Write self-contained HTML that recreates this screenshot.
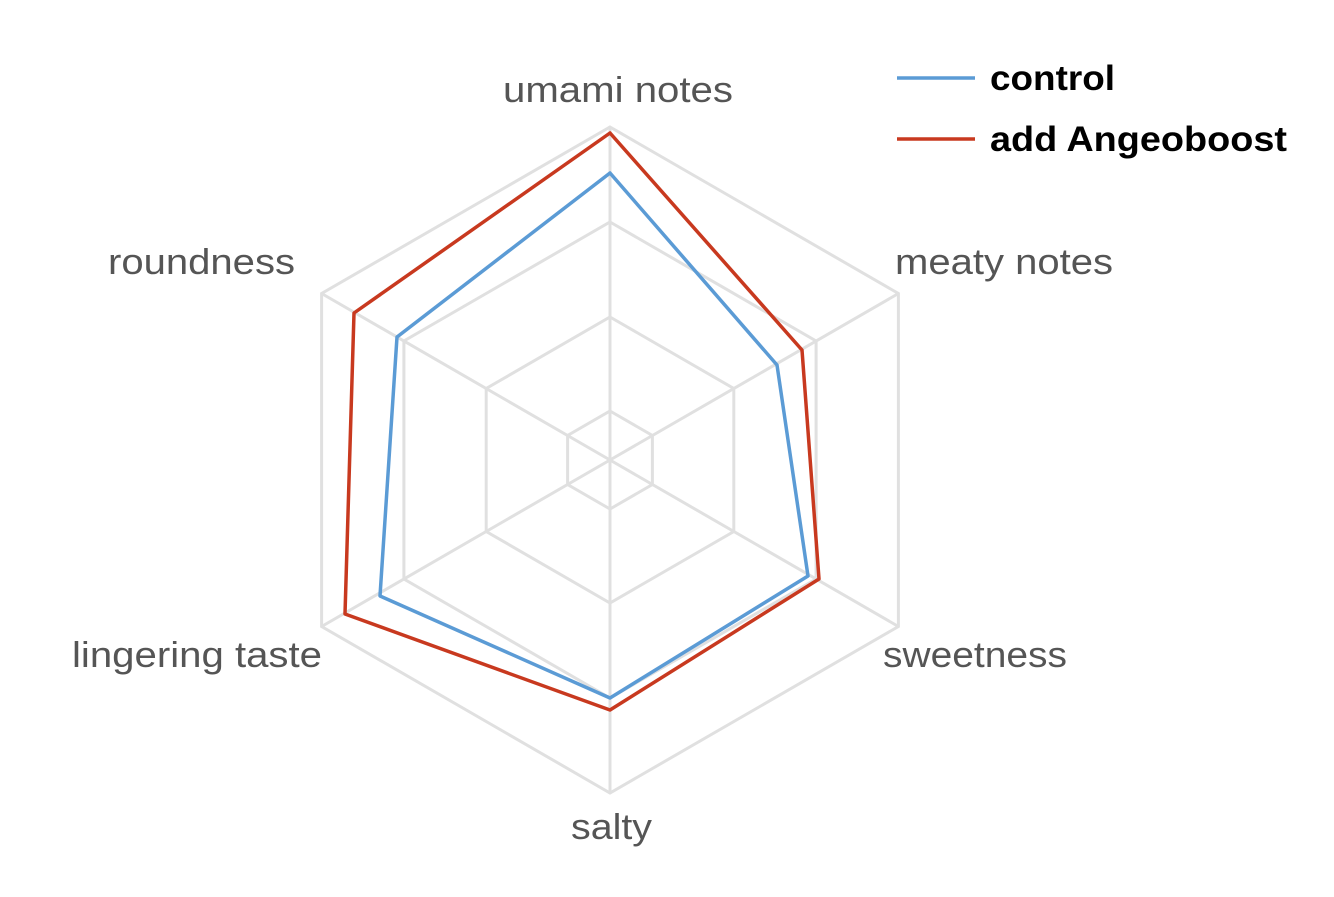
<!DOCTYPE html>
<html><head><meta charset="utf-8"><style>
html,body{margin:0;padding:0;background:#fff;}
svg{display:block;}
text{font-family:"Liberation Sans","DejaVu Sans",sans-serif;}
</style></head><body>
<svg width="1334" height="897" viewBox="0 0 1334 897" xmlns="http://www.w3.org/2000/svg">
<g fill="none" stroke="#e0e0e0" stroke-width="3">
<polygon points="610,411 652.4,435.5 652.4,484.5 610,509 567.6,484.5 567.6,435.5"/>
<polygon points="610,317 733.8,388.5 733.8,531.5 610,603 486.2,531.5 486.2,388.5"/>
<polygon points="610,222 816.1,341 816.1,579 610,698 403.9,579 403.9,341"/>
<polygon points="610,127 898.4,293.5 898.4,626.5 610,793 321.6,626.5 321.6,293.5"/>
<line x1="610" y1="460" x2="610" y2="127"/>
<line x1="610" y1="460" x2="898.4" y2="293.5"/>
<line x1="610" y1="460" x2="898.4" y2="626.5"/>
<line x1="610" y1="460" x2="610" y2="793"/>
<line x1="610" y1="460" x2="321.6" y2="626.5"/>
<line x1="610" y1="460" x2="321.6" y2="293.5"/>
</g>
<polygon fill="none" stroke="#5b9bd5" stroke-width="3.5" stroke-linejoin="round" points="610,173 777,365 808,576 610,698 380,596 397,337"/>
<polygon fill="none" stroke="#c8391f" stroke-width="3.5" stroke-linejoin="round" points="610,133 802,350 819,579 610,710 345,614 354,313"/>
<g fill="#555" font-size="36">
<text x="503" y="102" textLength="230" lengthAdjust="spacingAndGlyphs">umami notes</text>
<text x="108" y="274" textLength="187" lengthAdjust="spacingAndGlyphs">roundness</text>
<text x="895" y="274" textLength="218" lengthAdjust="spacingAndGlyphs">meaty notes</text>
<text x="72" y="667" textLength="250" lengthAdjust="spacingAndGlyphs">lingering taste</text>
<text x="883" y="667" textLength="184" lengthAdjust="spacingAndGlyphs">sweetness</text>
<text x="571" y="839" textLength="81" lengthAdjust="spacingAndGlyphs">salty</text>
</g>
<line x1="897" y1="78" x2="975" y2="78" stroke="#5b9bd5" stroke-width="3.5"/>
<line x1="897" y1="139" x2="975" y2="139" stroke="#c8391f" stroke-width="3.5"/>
<g fill="#000" font-size="35" font-weight="bold">
<text x="990" y="90" textLength="125" lengthAdjust="spacingAndGlyphs">control</text>
<text x="990" y="151" textLength="297" lengthAdjust="spacingAndGlyphs">add Angeoboost</text>
</g>
</svg>
</body></html>
